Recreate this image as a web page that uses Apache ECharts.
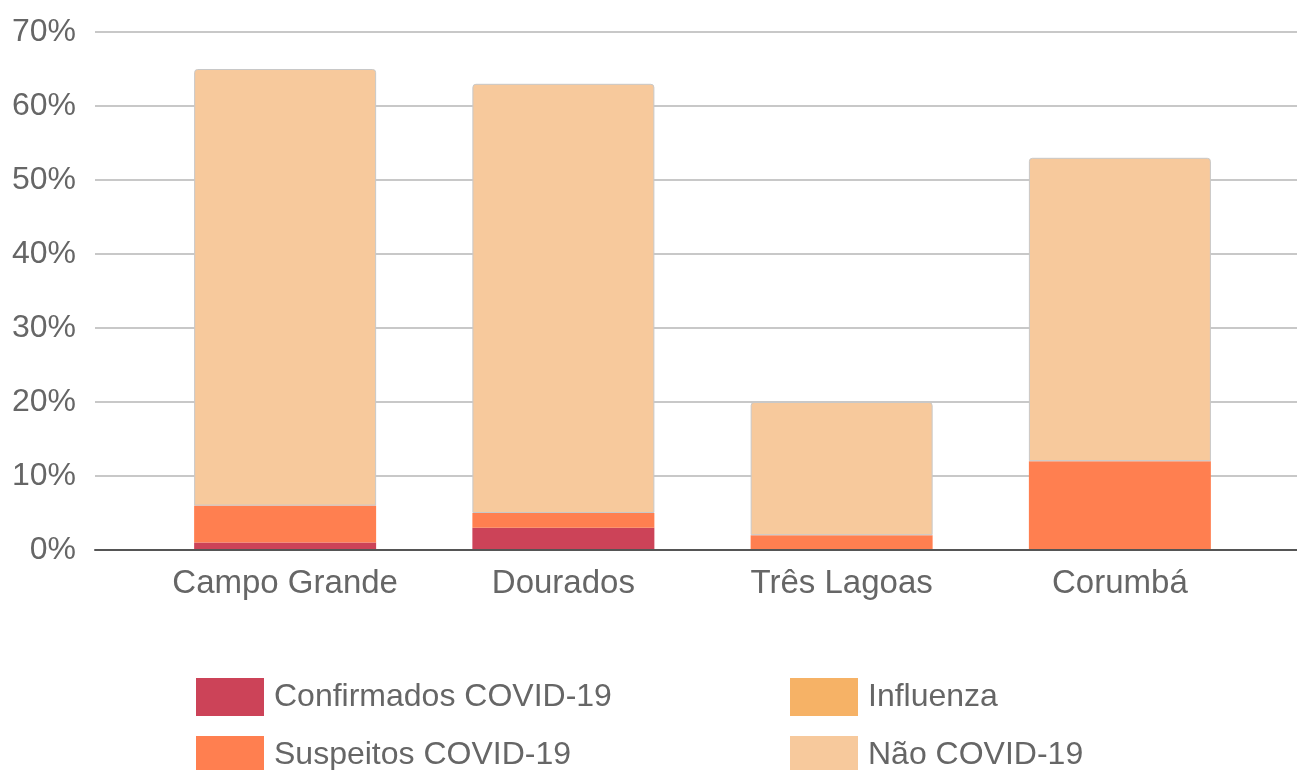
<!DOCTYPE html>
<html>
<head>
<meta charset="utf-8">
<script src="https://cdn.jsdelivr.net/npm/echarts@6/dist/echarts.min.js"></script>
<style>
  html, body { margin: 0; padding: 0; background: #fff; }
  #main { width: 1297px; height: 770px; }
</style>
</head>
<body>
<div id="main"></div>
<script>
// data (percent)
var cities = ['Campo Grande', 'Dourados', 'Três Lagoas', 'Corumbá'];
var confirmados = [1, 3, 0, 0];
var suspeitos = [5, 2, 2, 12];
var influenza = [0, 0, 0, 0];
var naoCovid = [59, 58, 18, 41];
var yTicks = [0, 10, 20, 30, 40, 50, 60, 70];

var textColor = '#666666';
var font = 'Liberation Sans, Arial, sans-serif';

var myChart = echarts.init(document.getElementById('main'));

var legendBase = {
  orient: 'vertical', top: 678, height: 140, padding: 0,
  itemWidth: 68, itemHeight: 38, itemGap: 20, icon: 'rect',
  itemStyle: { borderWidth: 0 },
  textStyle: { color: textColor, fontSize: 32, fontFamily: font, padding: [0, 0, 0, 5] }
};

var option = {
  animation: false,
  textStyle: { fontFamily: font },
  grid: [
    { left: 95, right: 0, top: 32, bottom: 220 },
    { left: 146, right: 38, top: 32, bottom: 220 }
  ],
  xAxis: [
    {
      gridIndex: 0, type: 'value', min: 0, max: 1, z: 10,
      axisLabel: { show: false }, axisTick: { show: false }, splitLine: { show: false },
      axisLine: { lineStyle: { color: '#555', width: 2 } }
    },
    {
      gridIndex: 1, type: 'category', data: cities,
      axisLine: { show: false }, axisTick: { show: false },
      axisLabel: { color: textColor, fontSize: 33, margin: 17, interval: 0, fontFamily: font }
    }
  ],
  yAxis: [
    {
      gridIndex: 0, type: 'value', min: yTicks[0], max: yTicks[yTicks.length - 1], interval: 10,
      axisLine: { show: false }, axisTick: { show: false },
      axisLabel: { color: textColor, fontSize: 32, margin: 19, formatter: '{value}%', fontFamily: font },
      splitLine: { lineStyle: { color: '#c8c8c8', width: 2 } }
    },
    {
      gridIndex: 1, type: 'value', min: 0, max: 70,
      axisLine: { show: false }, axisTick: { show: false },
      axisLabel: { show: false }, splitLine: { show: false }
    }
  ],
  legend: [
    Object.assign({}, legendBase, { left: 196, data: ['Confirmados COVID-19', 'Suspeitos COVID-19'] }),
    Object.assign({}, legendBase, { left: 790, data: ['Influenza', 'Não COVID-19'] })
  ],
  series: [
    {
      name: 'Confirmados COVID-19', type: 'bar', stack: 'total',
      xAxisIndex: 1, yAxisIndex: 1, barWidth: 182,
      itemStyle: { color: '#cc4358' }, data: confirmados
    },
    {
      name: 'Suspeitos COVID-19', type: 'bar', stack: 'total',
      xAxisIndex: 1, yAxisIndex: 1, barWidth: 182,
      itemStyle: { color: '#ff7f50' }, data: suspeitos
    },
    {
      name: 'Influenza', type: 'bar', stack: 'total',
      xAxisIndex: 1, yAxisIndex: 1, barWidth: 182,
      itemStyle: { color: '#f6b266' }, data: influenza
    },
    {
      name: 'Não COVID-19', type: 'bar', stack: 'total',
      xAxisIndex: 1, yAxisIndex: 1, barWidth: 182,
      itemStyle: { color: '#f7c99c', borderColor: '#c8c8c8', borderWidth: 1, borderRadius: [3, 3, 0, 0] },
      data: naoCovid
    }
  ]
};

myChart.setOption(option);
</script>
</body>
</html>
